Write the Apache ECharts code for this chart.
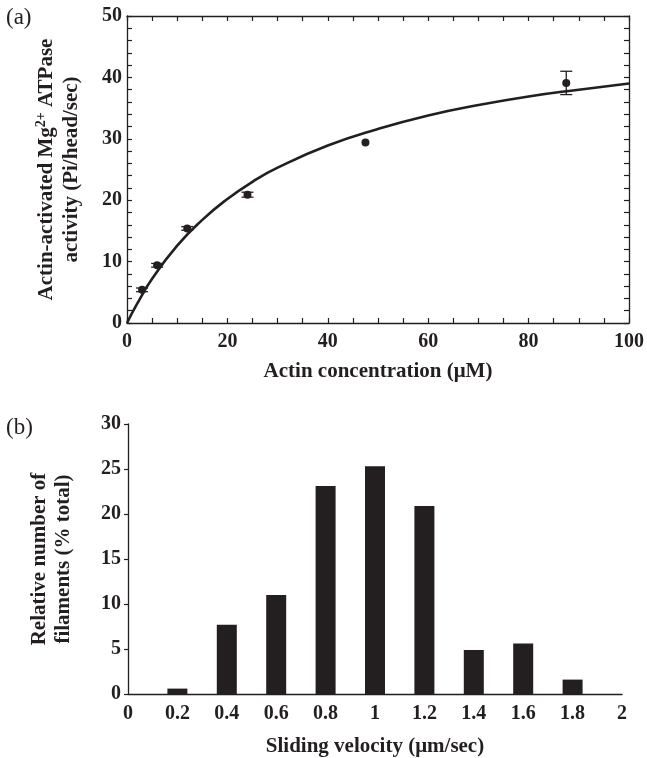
<!DOCTYPE html>
<html>
<head>
<meta charset="utf-8">
<script src="https://cdn.jsdelivr.net/npm/echarts@6/dist/echarts.min.js"></script>
<style>
  html, body { margin: 0; padding: 0; background: #fff; }
  #main { width: 647px; height: 758px; }
</style>
</head>
<body>
<div id="main"></div>
<script>
// (a) actin-activated ATPase
const actinConc = [3, 6, 12, 24, 47.5, 87.5]
const atpaseRate = [5.4, 9.4, 15.4, 20.9, 29.4, 39.1]
const atpaseErr = [0.3, 0.3, 0.3, 0.4, 0, 1.9]
// fitted curve
const fitX = [0, 2, 5, 10, 15, 20, 25, 30, 40, 50, 60, 70, 80, 90, 100]
const fitY = [0, 3.1, 7.2, 12.6, 16.8, 20.2, 23.0, 25.3, 28.9, 31.6, 33.8, 35.5, 36.9, 38.0, 39.0]

// (b) sliding velocity histogram
const velocity = [0.2, 0.4, 0.6, 0.8, 1.0, 1.2, 1.4, 1.6, 1.8]
const filaments = [0.6, 7.7, 11.0, 23.1, 25.3, 20.9, 4.9, 5.6, 1.6]

const ink = '#231f20'
const serif = 'Liberation Serif'
const tickFont = { fontFamily: serif, fontWeight: 'bold', fontSize: 20, color: ink }
const nameFont = { fontFamily: serif, fontWeight: 'bold', fontSize: 21, color: ink }

const myChart = echarts.init(document.getElementById('main'))

const boxAxis = (extra) => Object.assign({
  type: 'value',
  gridIndex: 0,
  splitLine: { show: false },
  axisLine: { show: true, onZero: false, lineStyle: { color: ink, width: 1.3 } },
  axisTick: { show: true, inside: true, length: 5, lineStyle: { color: ink, width: 1.2 } },
  minorTick: { show: true, length: 5, lineStyle: { color: ink, width: 1.2 } },
  axisLabel: Object.assign({ show: true }, tickFont)
}, extra)

const option = {
  animation: false,
  backgroundColor: '#fff',
  title: [
    { text: '(a)', left: 6, top: 6, padding: 0, textStyle: { fontFamily: serif, fontWeight: 'normal', fontSize: 23, color: ink } },
    { text: '(b)', left: 6, top: 416, padding: 0, textStyle: { fontFamily: serif, fontWeight: 'normal', fontSize: 23, color: ink } }
  ],
  grid: [
    { left: 127, top: 16, width: 502, height: 307 },
    { left: 128, top: 424, width: 494, height: 271 }
  ],
  xAxis: [
    boxAxis({
      min: 0, max: 100, interval: 20,
      minorTick: { show: true, splitNumber: 4, length: 5, lineStyle: { color: ink, width: 1.2 } },
      axisLabel: Object.assign({ margin: 9 }, tickFont),
      name: 'Actin concentration (\u03bcM)',
      nameLocation: 'middle',
      nameGap: 38,
      nameTextStyle: nameFont
    }),
    boxAxis({
      position: 'top',
      min: 0, max: 100, interval: 20,
      minorTick: { show: true, splitNumber: 4, length: 5, lineStyle: { color: ink, width: 1.2 } },
      axisLabel: { show: false }
    }),
    {
      type: 'value',
      gridIndex: 1,
      min: 0, max: 2, interval: 0.2,
      splitLine: { show: false },
      axisLine: { show: true, onZero: false, lineStyle: { color: ink, width: 1.3 } },
      axisTick: { show: false },
      axisLabel: Object.assign({ margin: 10, formatter: v => String(+v.toFixed(1)) }, tickFont),
      name: 'Sliding velocity (\u03bcm/sec)',
      nameLocation: 'middle',
      nameGap: 42,
      nameTextStyle: nameFont
    }
  ],
  yAxis: [
    boxAxis({
      min: 0, max: 50, interval: 10,
      minorTick: { show: true, splitNumber: 5, length: 5, lineStyle: { color: ink, width: 1.2 } },
      axisLabel: Object.assign({ margin: 5 }, tickFont),
      name: '{a|Actin-activated Mg}{s|2+}{a| ATPase}\n{a|activity (Pi/head/sec)}',
      nameLocation: 'middle',
      nameRotate: 90,
      nameGap: 43,
      nameTextStyle: {
        rich: {
          a: Object.assign({ lineHeight: 25 }, nameFont),
          s: { fontFamily: serif, fontWeight: 'bold', fontSize: 14, color: ink, lineHeight: 25, verticalAlign: 'top' }
        }
      }
    }),
    boxAxis({
      position: 'right',
      min: 0, max: 50, interval: 10,
      minorTick: { show: true, splitNumber: 5, length: 5, lineStyle: { color: ink, width: 1.2 } },
      axisLabel: { show: false }
    }),
    {
      type: 'value',
      gridIndex: 1,
      min: 0, max: 30, interval: 5,
      splitLine: { show: false },
      axisLine: { show: true, onZero: false, lineStyle: { color: ink, width: 1.3 } },
      axisTick: { show: true, inside: false, length: 4, lineStyle: { color: ink, width: 1.2 } },
      axisLabel: Object.assign({ margin: 7 }, tickFont),
      name: 'Relative number of\nfilaments (% total)',
      nameLocation: 'middle',
      nameRotate: 90,
      nameGap: 52,
      nameTextStyle: Object.assign({ lineHeight: 24 }, nameFont)
    }
  ],
  series: [
    {
      name: 'fit',
      type: 'line',
      xAxisIndex: 0,
      yAxisIndex: 0,
      smooth: true,
      showSymbol: false,
      lineStyle: { color: ink, width: 2.6 },
      data: fitX.map((x, i) => [x, fitY[i]])
    },
    {
      name: 'error',
      type: 'custom',
      xAxisIndex: 0,
      yAxisIndex: 0,
      data: actinConc.map((x, i) => [x, atpaseRate[i] - atpaseErr[i], atpaseRate[i] + atpaseErr[i]]),
      renderItem: (params, api) => {
        const lo = api.coord([api.value(0), api.value(1)])
        const hi = api.coord([api.value(0), api.value(2)])
        if (Math.abs(hi[1] - lo[1]) < 0.5) return
        const w = 6
        const style = { stroke: ink, lineWidth: 1.3 }
        return {
          type: 'group',
          children: [
            { type: 'line', shape: { x1: lo[0], y1: lo[1], x2: hi[0], y2: hi[1] }, style },
            { type: 'line', shape: { x1: lo[0] - w, y1: lo[1], x2: lo[0] + w, y2: lo[1] }, style },
            { type: 'line', shape: { x1: hi[0] - w, y1: hi[1], x2: hi[0] + w, y2: hi[1] }, style }
          ]
        }
      }
    },
    {
      name: 'ATPase',
      type: 'scatter',
      xAxisIndex: 0,
      yAxisIndex: 0,
      symbol: 'circle',
      symbolSize: 8,
      itemStyle: { color: ink, opacity: 1 },
      data: actinConc.map((x, i) => [x, atpaseRate[i]])
    },
    {
      name: 'filaments',
      type: 'bar',
      xAxisIndex: 2,
      yAxisIndex: 2,
      barWidth: 20,
      itemStyle: { color: ink },
      data: velocity.map((v, i) => [v, filaments[i]])
    }
  ]
}

myChart.setOption(option)
</script>
</body>
</html>
